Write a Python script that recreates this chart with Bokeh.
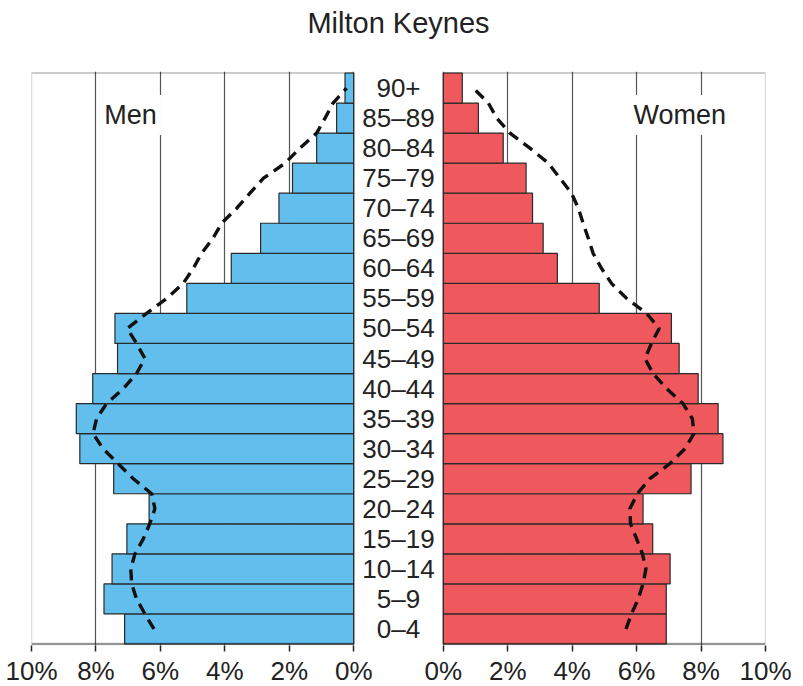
import numpy as np
from bokeh.plotting import figure
from bokeh.models import Range1d, FixedTicker, BoxAnnotation, Label, LinearAxis
from bokeh.core.properties import value
from bokeh.embed import file_html
from bokeh.resources import INLINE

title = "Milton Keynes"
ages = ["0–4", "5–9", "10–14", "15–19", "20–24", "25–29", "30–34", "35–39",
        "40–44", "45–49", "50–54", "55–59", "60–64", "65–69", "70–74",
        "75–79", "80–84", "85–89", "90+"]
men = [7.11, 7.75, 7.50, 7.04, 6.35, 7.45, 8.50, 8.61, 8.10, 7.33, 7.41,
       5.18, 3.80, 2.89, 2.32, 1.90, 1.15, 0.53, 0.27]
women = [6.92, 6.92, 7.04, 6.50, 6.20, 7.69, 8.68, 8.53, 7.91, 7.32, 7.08,
         4.84, 3.54, 3.10, 2.77, 2.57, 1.86, 1.09, 0.59]
# comparison profile (dashed), read at every half age band from 0–4 up to 90+
men_ref = [6.20, 6.48, 6.74, 6.89, 6.92, 6.79, 6.53, 6.33, 6.17, 6.27, 6.84,
           7.31, 7.78, 8.09, 7.98, 7.67, 7.15, 6.74, 6.48, 6.74, 7.03, 6.43,
           5.80, 5.29, 4.98, 4.72, 4.37, 4.10, 3.63, 3.22, 2.80, 2.13, 1.67,
           1.15, 0.89, 0.64, 0.22]
women_ref = [5.67, 5.84, 6.05, 6.20, 6.29, 6.18, 6.00, 5.81, 5.79, 6.02, 6.41,
             7.03, 7.50, 7.78, 7.73, 7.44, 6.93, 6.51, 6.26, 6.46, 6.70, 6.31,
             5.69, 5.22, 4.91, 4.65, 4.50, 4.34, 4.19, 3.98, 3.62, 3.26, 2.69,
             2.07, 1.66, 1.40, 0.93]
tick_values = [0, 2, 4, 6, 8, 10]
tick_labels = ["0%", "2%", "4%", "6%", "8%", "10%"]
men_label = "Men"
women_label = "Women"

FONT = "Liberation Sans"
TXT = "#222222"
BLUE = "#62BEEC"
RED = "#EF585C"
GAP = 2.78   # space between the two panels, in percentage units

y = np.arange(len(ages), dtype=float)
y_half = np.arange(len(men_ref), dtype=float) / 2.0
men_a = np.array(men)
women_a = np.array(women)
top = len(ages) - 0.5

p = figure(frame_width=734, frame_height=574,
           x_range=Range1d(-10, GAP + 10), y_range=Range1d(-0.55, top + 0.05),
           output_backend="svg", toolbar_location=None, y_axis_location=None,
           min_border_left=31, min_border_right=30, min_border_top=71,
           min_border_bottom=41)
p.outline_line_color = None
p.background_fill_color = "white"

ticks = [-float(v) for v in tick_values] + [GAP + v for v in tick_values]
overrides = {}
for v, lab in zip(tick_values, tick_labels):
    overrides[-float(v)] = lab
    overrides[GAP + v] = lab

ax = p.below[0]
ax.ticker = FixedTicker(ticks=ticks)
ax.major_label_overrides = overrides
ax.axis_line_color = None
ax.major_tick_line_color = TXT
ax.major_tick_line_width = 1.5
ax.major_tick_out = 6
ax.major_tick_in = 0
ax.minor_tick_line_color = None
ax.major_label_text_font = FONT
ax.major_label_text_font_size = "26px"
ax.major_label_text_color = TXT
ax.major_label_standoff = 4

# title drawn as the label of an otherwise empty axis above the frame
title_axis = LinearAxis(axis_label=title, ticker=FixedTicker(ticks=[]),
                        axis_line_color=None, major_tick_line_color=None,
                        minor_tick_line_color=None, major_tick_out=0,
                        major_tick_in=0, major_label_standoff=0,
                        axis_label_standoff=33, axis_label_text_font=FONT,
                        axis_label_text_font_size="29px",
                        axis_label_text_font_style="normal",
                        axis_label_text_color=TXT)
p.add_layout(title_axis, "above")

p.xgrid.ticker = FixedTicker(ticks=ticks)
p.xgrid.grid_line_color = "#555555"
p.xgrid.grid_line_width = 1.2
p.ygrid.visible = False

p.hbar(y=y, left=-men_a, right=0, height=1.0, fill_color=BLUE,
       line_color="#2a2a2a", line_width=1.2)
p.hbar(y=y, left=GAP, right=GAP + women_a, height=1.0, fill_color=RED,
       line_color="#2a2a2a", line_width=1.2)

p.line(x=-np.array(men_ref), y=y_half, line_color="#111111", line_width=3.4,
       line_dash="11 7")
p.line(x=GAP + np.array(women_ref), y=y_half, line_color="#111111",
       line_width=3.4, line_dash="11 7")

p.text(x=np.full(len(ages), GAP / 2), y=y, text=ages, text_font=value(FONT),
       text_font_size="26px", text_color=TXT, text_align="center",
       text_baseline="middle")

for l, r in [(-10, 0), (GAP, GAP + 10)]:
    p.add_layout(BoxAnnotation(left=l, right=r, bottom=-0.5, top=top,
                               fill_alpha=0, line_color="#222222",
                               line_width=1.3))
    p.add_layout(BoxAnnotation(left=l, right=r, bottom=-0.5, top=-0.5,
                               fill_alpha=0, line_color="#111111",
                               line_width=2.6))

for txt, xx in [(men_label, -6.93), (women_label, GAP + 7.34)]:
    p.add_layout(Label(x=xx, y=17.1, text=txt, text_font=FONT,
                       text_font_size="27px", text_color=TXT,
                       text_align="center", text_baseline="middle",
                       background_fill_color="white", padding=5))

open("out.html", "w").write(file_html(p, INLINE))
